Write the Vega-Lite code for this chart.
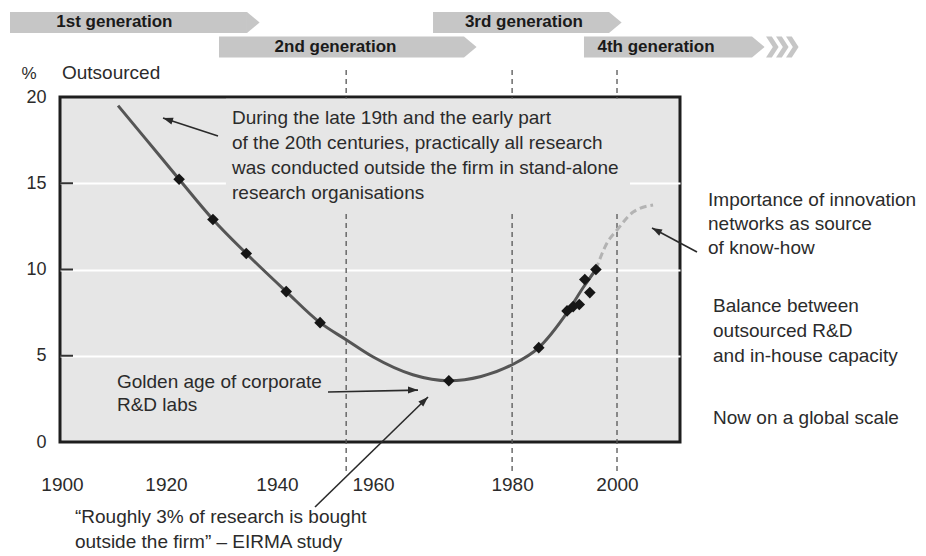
{
  "$schema": "https://vega.github.io/schema/vega-lite/v6.json",
  "width": 620,
  "height": 345,
  "autosize": "none",
  "padding": {"left": 60, "top": 97, "right": 246, "bottom": 114},
  "background": "white",
  "config": {
    "view": {"fill": "#e6e6e6", "stroke": "#1e1e1e", "strokeWidth": 3},
    "font": "Liberation Sans"
  },
  "datasets": {
    "guides": [{"year": 1951.2}, {"year": 1981.1}, {"year": 2000.0}],
    "mask": [{"x": 1929.53, "x2": 2002.34, "y": 19.9, "y2": 13.45}],
    "ticks": [{"v": 5}, {"v": 10}, {"v": 15}],
    "curve": [
      {"year": 1910.1, "pct": 19.5, "part": "solid"},
      {"year": 1915.0, "pct": 17.6, "part": "solid"},
      {"year": 1921.1, "pct": 15.23, "part": "solid"},
      {"year": 1927.2, "pct": 12.9, "part": "solid"},
      {"year": 1933.2, "pct": 10.93, "part": "solid"},
      {"year": 1940.4, "pct": 8.72, "part": "solid"},
      {"year": 1946.5, "pct": 6.92, "part": "solid"},
      {"year": 1951.2, "pct": 5.93, "part": "solid"},
      {"year": 1956.0, "pct": 4.94, "part": "solid"},
      {"year": 1963.2, "pct": 3.9, "part": "solid"},
      {"year": 1969.7, "pct": 3.55, "part": "solid"},
      {"year": 1975.5, "pct": 3.8, "part": "solid"},
      {"year": 1981.1, "pct": 4.48, "part": "solid"},
      {"year": 1985.9, "pct": 5.47, "part": "solid"},
      {"year": 1991.0, "pct": 7.5, "part": "solid"},
      {"year": 1994.0, "pct": 9.0, "part": "solid"},
      {"year": 1996.2, "pct": 10.0, "part": "solid"},
      {"year": 1996.2, "pct": 10.0, "part": "projected"},
      {"year": 1998.2, "pct": 11.54, "part": "projected"},
      {"year": 2000.0, "pct": 12.29, "part": "projected"},
      {"year": 2002.9, "pct": 13.33, "part": "projected"},
      {"year": 2006.5, "pct": 13.74, "part": "projected"}
    ],
    "obs": [
      {"year": 1921.1, "pct": 15.23},
      {"year": 1927.2, "pct": 12.9},
      {"year": 1933.2, "pct": 10.93},
      {"year": 1940.4, "pct": 8.72},
      {"year": 1946.5, "pct": 6.92},
      {"year": 1969.7, "pct": 3.55},
      {"year": 1985.9, "pct": 5.47},
      {"year": 1991.0, "pct": 7.6},
      {"year": 1992.1, "pct": 7.85},
      {"year": 1993.2, "pct": 7.97},
      {"year": 1994.2, "pct": 9.42},
      {"year": 1995.1, "pct": 8.66},
      {"year": 1996.2, "pct": 10.0}
    ],
    "arrows": [
      {"id": "a1", "x": 1928.11, "y": 17.74, "x2": 1918.2, "y2": 18.78},
      {"id": "a2", "x": 1947.93, "y": 2.9, "x2": 1964.14, "y2": 3.01},
      {"id": "a3", "x": 1945.59, "y": -3.77, "x2": 1965.95, "y2": 2.61},
      {"id": "a4", "x": 2014.41, "y": 11.01, "x2": 2006.31, "y2": 12.41}
    ],
    "notes": [
      {"x": 1930.63, "y": 18.8, "text": "During the late 19th and the early part", "size": "body"},
      {"x": 1930.63, "y": 17.35, "text": "of the 20th centuries, practically all research", "size": "body"},
      {"x": 1930.63, "y": 15.9, "text": "was conducted outside the firm in stand-alone", "size": "body"},
      {"x": 1930.63, "y": 14.42, "text": "research organisations", "size": "body"},
      {"x": 1909.9, "y": 3.48, "text": "Golden age of corporate", "size": "body"},
      {"x": 1909.9, "y": 2.14, "text": "R&D labs", "size": "body"},
      {"x": 1902.34, "y": -4.35, "text": "“Roughly 3% of research is bought", "size": "body"},
      {"x": 1902.34, "y": -5.8, "text": "outside the firm” – EIRMA study", "size": "body"},
      {"x": 2016.4, "y": 14.03, "text": "Importance of innovation", "size": "body"},
      {"x": 2016.4, "y": 12.64, "text": "networks as source", "size": "body"},
      {"x": 2016.4, "y": 11.25, "text": "of know-how", "size": "body"},
      {"x": 2017.3, "y": 7.86, "text": "Balance between", "size": "body"},
      {"x": 2017.3, "y": 6.42, "text": "outsourced R&D", "size": "body"},
      {"x": 2017.3, "y": 4.97, "text": "and in-house capacity", "size": "body"},
      {"x": 2017.3, "y": 1.37, "text": "Now on a global scale", "size": "body"},
      {"x": 1900.0, "y": 21.39, "text": "Outsourced", "size": "body"}
    ],
    "unit": [{"x": 1892.7, "y": 21.33, "text": "%"}],
    "gens": [
      {"gen": "1st generation", "start": 1890.63, "end": 1933.33, "top": 24.93, "bottom": 23.71, "mid": 24.32, "label": 1909.44},
      {"gen": "2nd generation", "start": 1928.29, "end": 1972.43, "top": 23.51, "bottom": 22.29, "mid": 22.9, "label": 1949.28},
      {"gen": "3rd generation", "start": 1966.85, "end": 1998.56, "top": 24.93, "bottom": 23.71, "mid": 24.32, "label": 1983.23},
      {"gen": "4th generation", "start": 1994.05, "end": 2024.32, "top": 23.51, "bottom": 22.29, "mid": 22.9, "label": 2007.03}
    ],
    "chevrons": [
      {"x": 2026.85, "y": 22.9},
      {"x": 2028.65, "y": 22.9},
      {"x": 2030.45, "y": 22.9}
    ]
  },
  "layer": [
    {
      "data": {"name": "guides"},
      "mark": {"type": "rule", "color": "#555555", "strokeWidth": 1.3, "strokeDash": [5, 4]},
      "encoding": {
        "x": {
          "field": "year", "type": "quantitative",
          "scale": {"domain": [1899.64, 2011.35], "nice": false, "zero": false},
          "axis": {
            "title": null,
            "values": [1900, 1918.74, 1938.74, 1956.04, 1981.1, 2000],
            "labelExpr": "format(round(datum.value/20)*20, 'd')",
            "grid": false, "ticks": false, "domain": false,
            "labelPadding": 33, "labelFontSize": 19, "labelColor": "#2b2b2b",
            "labelFlush": false, "labelOverlap": false
          }
        },
        "y": {
          "datum": 21.57, "type": "quantitative",
          "scale": {"domain": [0, 20], "nice": false, "zero": true},
          "axis": {
            "title": null,
            "values": [0, 5, 10, 15, 20],
            "grid": true, "gridColor": "#ffffff", "gridWidth": 2,
            "gridOpacity": {"condition": {"test": "datum.value == 0 || datum.value == 20", "value": 0}, "value": 1},
            "ticks": false, "domain": false,
            "labelPadding": 14, "labelFontSize": 18, "labelColor": "#2b2b2b",
            "labelFlush": false, "labelOverlap": false
          }
        },
        "y2": {"datum": -1.85}
      }
    },
    {
      "data": {"name": "mask"},
      "mark": {"type": "rect", "color": "#e6e6e6"},
      "encoding": {
        "x": {"field": "x", "type": "quantitative"},
        "x2": {"field": "x2"},
        "y": {"field": "y", "type": "quantitative"},
        "y2": {"field": "y2"}
      }
    },
    {
      "data": {"name": "ticks"},
      "mark": {"type": "rule", "color": "#333333", "strokeWidth": 2},
      "encoding": {
        "x": {"datum": 1899.64, "type": "quantitative"},
        "x2": {"datum": 1901.98},
        "y": {"field": "v", "type": "quantitative"}
      }
    },
    {
      "data": {"name": "curve"},
      "transform": [{"filter": "datum.part === 'solid'"}],
      "mark": {"type": "line", "interpolate": "monotone", "color": "#555555", "strokeWidth": 3},
      "encoding": {
        "x": {"field": "year", "type": "quantitative"},
        "y": {"field": "pct", "type": "quantitative"}
      }
    },
    {
      "data": {"name": "curve"},
      "transform": [{"filter": "datum.part === 'projected'"}],
      "mark": {"type": "line", "interpolate": "monotone", "color": "#b3b3b3", "strokeWidth": 3, "strokeDash": [7, 4]},
      "encoding": {
        "x": {"field": "year", "type": "quantitative"},
        "y": {"field": "pct", "type": "quantitative"}
      }
    },
    {
      "data": {"name": "obs"},
      "mark": {"type": "point", "shape": "diamond", "filled": true, "color": "#161616", "size": 135, "opacity": 1},
      "encoding": {
        "x": {"field": "year", "type": "quantitative"},
        "y": {"field": "pct", "type": "quantitative"}
      }
    },
    {
      "data": {"name": "arrows"},
      "mark": {"type": "rule", "color": "#2a2a2a", "strokeWidth": 1.6},
      "encoding": {
        "x": {"field": "x", "type": "quantitative"},
        "y": {"field": "y", "type": "quantitative"},
        "x2": {"field": "x2"},
        "y2": {"field": "y2"}
      }
    },
    {
      "data": {"name": "arrows"},
      "transform": [{"filter": "datum.id === 'a1'"}],
      "mark": {"type": "point", "shape": "M0,0L0.7,2L-0.7,2Z", "filled": true, "color": "#2a2a2a", "size": 100, "opacity": 1, "angle": 288},
      "encoding": {
        "x": {"field": "x2", "type": "quantitative"},
        "y": {"field": "y2", "type": "quantitative"}
      }
    },
    {
      "data": {"name": "arrows"},
      "transform": [{"filter": "datum.id === 'a2'"}],
      "mark": {"type": "point", "shape": "M0,0L0.7,2L-0.7,2Z", "filled": true, "color": "#2a2a2a", "size": 100, "opacity": 1, "angle": 90},
      "encoding": {
        "x": {"field": "x2", "type": "quantitative"},
        "y": {"field": "y2", "type": "quantitative"}
      }
    },
    {
      "data": {"name": "arrows"},
      "transform": [{"filter": "datum.id === 'a3'"}],
      "mark": {"type": "point", "shape": "M0,0L0.7,2L-0.7,2Z", "filled": true, "color": "#2a2a2a", "size": 100, "opacity": 1, "angle": 46},
      "encoding": {
        "x": {"field": "x2", "type": "quantitative"},
        "y": {"field": "y2", "type": "quantitative"}
      }
    },
    {
      "data": {"name": "arrows"},
      "transform": [{"filter": "datum.id === 'a4'"}],
      "mark": {"type": "point", "shape": "M0,0L0.7,2L-0.7,2Z", "filled": true, "color": "#2a2a2a", "size": 100, "opacity": 1, "angle": 298},
      "encoding": {
        "x": {"field": "x2", "type": "quantitative"},
        "y": {"field": "y2", "type": "quantitative"}
      }
    },
    {
      "data": {"name": "notes"},
      "mark": {"type": "text", "align": "left", "baseline": "middle", "fontSize": 19, "color": "#2b2b2b", "font": "Liberation Sans"},
      "encoding": {
        "x": {"field": "x", "type": "quantitative"},
        "y": {"field": "y", "type": "quantitative"},
        "text": {"field": "text"}
      }
    },
    {
      "data": {"name": "unit"},
      "mark": {"type": "text", "align": "left", "baseline": "middle", "fontSize": 17, "color": "#2b2b2b", "font": "Liberation Sans"},
      "encoding": {
        "x": {"field": "x", "type": "quantitative"},
        "y": {"field": "y", "type": "quantitative"},
        "text": {"field": "text"}
      }
    },
    {
      "data": {"name": "gens"},
      "mark": {"type": "rect", "color": "#c6c6c6"},
      "encoding": {
        "x": {"field": "start", "type": "quantitative"},
        "x2": {"field": "end"},
        "y": {"field": "top", "type": "quantitative"},
        "y2": {"field": "bottom"}
      }
    },
    {
      "data": {"name": "gens"},
      "mark": {"type": "point", "shape": "M0,-1L1.2,0L0,1Z", "filled": true, "color": "#c6c6c6", "size": 441, "opacity": 1},
      "encoding": {
        "x": {"field": "end", "type": "quantitative"},
        "y": {"field": "mid", "type": "quantitative"}
      }
    },
    {
      "data": {"name": "chevrons"},
      "mark": {"type": "point", "shape": "M0,-1L0.55,-1L1.2,0L0.55,1L0,1L0.65,0Z", "filled": true, "color": "#c6c6c6", "size": 441, "opacity": 1},
      "encoding": {
        "x": {"field": "x", "type": "quantitative"},
        "y": {"field": "y", "type": "quantitative"}
      }
    },
    {
      "data": {"name": "gens"},
      "mark": {"type": "text", "align": "center", "baseline": "middle", "fontSize": 17, "fontWeight": "bold", "color": "#1a1a1a", "font": "Liberation Sans"},
      "encoding": {
        "x": {"field": "label", "type": "quantitative"},
        "y": {"field": "mid", "type": "quantitative"},
        "text": {"field": "gen"}
      }
    }
  ]
}
